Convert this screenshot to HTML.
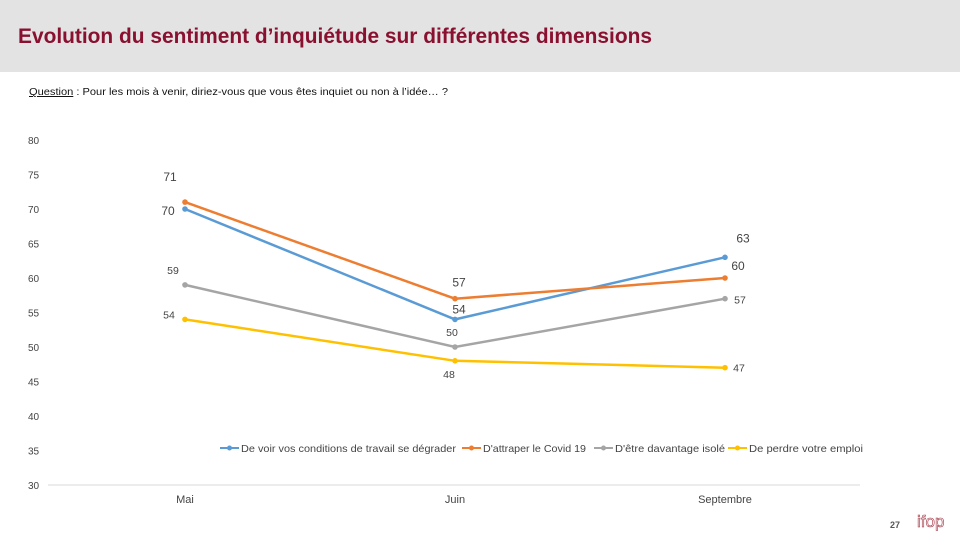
<!DOCTYPE html>
<html><head><meta charset="utf-8">
<style>
body{margin:0;width:960px;height:540px;background:#fff;font-family:"Liberation Sans",Calibri,sans-serif;overflow:hidden;position:relative}
.hdr{position:absolute;left:0;top:0;width:960px;height:72px;background:#e3e3e3}
svg{position:absolute;left:0;top:0;font-family:"Liberation Sans",sans-serif}
</style></head><body>
<div class="hdr"></div>
<svg width="960" height="120" style="z-index:1">
<text x="18" y="43" font-size="21" font-weight="bold" fill="#8a1030" textLength="634" lengthAdjust="spacingAndGlyphs">Evolution du sentiment d’inquiétude sur différentes dimensions</text>
<text x="29" y="95" font-size="10" fill="#111" textLength="419" lengthAdjust="spacingAndGlyphs"><tspan text-decoration="underline">Question</tspan> : Pour les mois à venir, diriez-vous que vous êtes inquiet ou non à l’idée… ?</text>
</svg>
<svg id="chart" width="960" height="540"></svg>
<script>
const categories=["Mai","Juin","Septembre"];
const yTicks=[30,35,40,45,50,55,60,65,70,75,80];
const seriesNames=["De voir vos conditions de travail se dégrader","D'attraper le Covid 19","D'être davantage isolé","De perdre votre emploi"];
const travail=[70,54,63];
const covid=[71,57,60];
const isole=[59,50,57];
const emploi=[54,48,47];
const colors=["#5b9bd5","#ed7d31","#a5a5a5","#ffc000"];
const svg=document.getElementById('chart');
const NS="http://www.w3.org/2000/svg";
const x=i=>185+i*270;
const y=v=>485-(v-30)*6.9;
function mk(t,a,txt){const e=document.createElementNS(NS,t);for(const k in a)e.setAttribute(k,a[k]);if(txt!==undefined)e.textContent=txt;svg.appendChild(e);return e;}
yTicks.forEach(t=>{const e=mk('text',{x:28,y:y(t)+4,'font-size':10,fill:'#444'},t);

});
const ax=mk('line',{x1:48,x2:860,y1:485,y2:485,stroke:'#d9d9d9'});


categories.forEach((c,i)=>{const e=mk('text',{x:x(i),y:503,'font-size':11,fill:'#444','text-anchor':'middle'},c);

});
const all=[travail,covid,isole,emploi];
const labelOff=[[[-17,2],[4,-10],[18,-19]],[[-15,-25],[4,-16],[13,-12]],[[-12,-15],[-3,-15],[15,1]],[[-16,-5],[-6,13],[14,0]]];
const fs=[12,12,10.5,10.5];
all.forEach((s,si)=>{
  const p=mk('polyline',{points:s.map((v,i)=>x(i)+','+y(v)).join(' '),fill:'none',stroke:colors[si],'stroke-width':2.5});
  
  
  s.forEach((v,i)=>{
    const c=mk('circle',{cx:x(i),cy:y(v),r:2.8,fill:colors[si]});
    
    
    const o=labelOff[si][i];
    const t=mk('text',{x:x(i)+o[0],y:y(v)+o[1]+4,'font-size':fs[si],fill:'#444','text-anchor':'middle'},v);
    
    
  });
});
const lx=[220,462,594,728];
const lw=[215,103,110,114];
seriesNames.forEach((n,i)=>{
  const l=mk('line',{x1:lx[i],x2:lx[i]+19,y1:448,y2:448,stroke:colors[i],'stroke-width':2});
  
  
  const c=mk('circle',{cx:lx[i]+9.5,cy:448,r:2.5,fill:colors[i]});
  
  
  const t=mk('text',{x:lx[i]+21,y:452,'font-size':10.5,'font-family':'Liberation Sans, sans-serif',fill:'#444',textLength:lw[i],lengthAdjust:'spacingAndGlyphs'},n);
  
  
});
const pn=mk('text',{x:890,y:528,'font-size':9,fill:'#555','font-weight':'bold'},'27');


const lg=mk('text',{x:917,y:527,'font-size':17,fill:'none',stroke:'#a03040','stroke-width':0.6},'ifop');


</script>
</body></html>
